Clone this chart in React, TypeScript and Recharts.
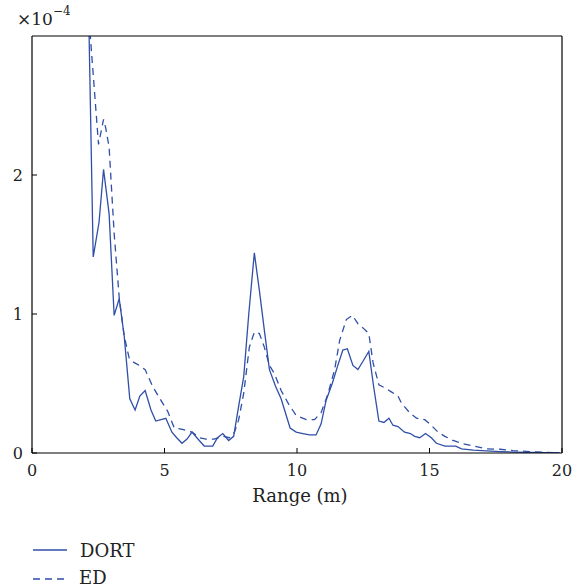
import React from 'react';
import { LineChart, Line, XAxis, YAxis, Legend } from 'recharts';

// Range (m)
const dortRange = [2.12, 2.31, 2.53, 2.70, 2.91, 3.10, 3.29, 3.48, 3.69, 3.89, 4.07, 4.27, 4.49, 4.67, 5.05, 5.28, 5.46, 5.66, 5.85, 6.04, 6.31, 6.50, 6.82, 7.0, 7.2, 7.42, 7.61, 7.81, 7.99, 8.18, 8.39, 8.58, 8.77, 8.96, 9.19, 9.40, 9.74, 9.97, 10.22, 10.47, 10.72, 10.91, 11.1, 11.33, 11.54, 11.73, 11.9, 12.11, 12.3, 12.49, 12.71, 12.89, 13.09, 13.28, 13.47, 13.62, 13.81, 14.06, 14.28, 14.44, 14.63, 14.85, 15.07, 15.26, 15.58, 15.99, 16.21, 16.65, 17.15, 17.66, 18.15, 18.8, 19.4, 19.9];
// DORT values (x 1e-4)
const dortValues = [3.36, 1.41, 1.66, 2.04, 1.72, 0.99, 1.11, 0.84, 0.39, 0.31, 0.41, 0.45, 0.31, 0.23, 0.25, 0.15, 0.11, 0.07, 0.10, 0.15, 0.09, 0.05, 0.05, 0.11, 0.14, 0.09, 0.12, 0.35, 0.55, 1.0, 1.44, 1.17, 0.88, 0.60, 0.48, 0.39, 0.18, 0.15, 0.14, 0.13, 0.13, 0.21, 0.38, 0.50, 0.63, 0.74, 0.75, 0.63, 0.60, 0.66, 0.73, 0.48, 0.23, 0.22, 0.25, 0.20, 0.19, 0.15, 0.14, 0.12, 0.11, 0.14, 0.11, 0.07, 0.05, 0.05, 0.03, 0.02, 0.015, 0.01, 0.007, 0.004, 0.003, 0.002];

const edRange = [2.12, 2.51, 2.70, 2.78, 2.91, 3.10, 3.29, 3.48, 3.67, 3.86, 4.05, 4.27, 4.55, 4.86, 5.12, 5.37, 5.68, 6.04, 6.31, 6.57, 6.88, 7.2, 7.45, 7.64, 7.8, 7.99, 8.2, 8.39, 8.58, 8.77, 8.96, 9.15, 9.40, 9.69, 9.97, 10.35, 10.66, 10.91, 11.16, 11.42, 11.61, 11.86, 12.09, 12.3, 12.49, 12.71, 12.87, 13.09, 13.3, 13.56, 13.81, 13.94, 14.25, 14.51, 14.82, 15.01, 15.32, 15.58, 15.89, 16.21, 16.65, 17.15, 17.66, 18.15, 18.8, 19.4, 19.9];
// ED values (x 1e-4)
const edValues = [3.2, 2.22, 2.40, 2.34, 2.2, 1.58, 1.12, 0.84, 0.68, 0.65, 0.63, 0.60, 0.48, 0.38, 0.30, 0.18, 0.17, 0.15, 0.11, 0.10, 0.10, 0.12, 0.11, 0.15, 0.24, 0.43, 0.76, 0.87, 0.86, 0.76, 0.63, 0.57, 0.45, 0.35, 0.27, 0.24, 0.24, 0.29, 0.42, 0.60, 0.81, 0.96, 0.99, 0.93, 0.90, 0.86, 0.65, 0.49, 0.47, 0.44, 0.41, 0.36, 0.29, 0.25, 0.24, 0.21, 0.15, 0.12, 0.09, 0.07, 0.05, 0.03, 0.027, 0.017, 0.01, 0.005, 0.002];

const xTicks = [0, 5, 10, 15, 20];
const yTicks = [0, 1, 2];
const seriesNames = ['DORT', 'ED'];

const dortData = dortRange.map((x, i) => ({ x, y: dortValues[i] }));
const edData = edRange.map((x, i) => ({ x, y: edValues[i] }));

const BLUE = '#2f4fa8';
const FONT = '"DejaVu Serif", serif';
const DASH = '7 5';

const LegendContent = () => (
  <svg width={160} height={60} style={{ display: 'block', overflow: 'visible' }}>
    <line x1={33} x2={67} y1={11} y2={11} stroke={BLUE} strokeWidth={1.3} />
    <text x={80} y={18} style={{ fontFamily: FONT, fontSize: 18 }} fill="#222">{seriesNames[0]}</text>
    <line x1={33} x2={67} y1={40} y2={40} stroke={BLUE} strokeWidth={1.3} strokeDasharray={DASH} />
    <text x={79} y={45} style={{ fontFamily: FONT, fontSize: 18 }} fill="#222">{seriesNames[1]}</text>
  </svg>
);

export default function App() {
  const tickStyle = { fontFamily: FONT, fontSize: 16, fill: '#222' };
  return (
    <div style={{ position: 'absolute', left: 0, top: 0, width: 573, height: 587, background: '#fff', fontFamily: FONT }}>
      <LineChart width={573} height={587} margin={{ top: 35, right: 10, bottom: 104, left: 2 }} style={{ fontFamily: FONT }}>
        <XAxis
          xAxisId="b"
          dataKey="x"
          type="number"
          domain={[0, 20]}
          ticks={xTicks}
          allowDataOverflow
          height={30}
          tickSize={-5}
          tickMargin={17}
          tick={tickStyle}
          axisLine={{ stroke: '#000', strokeWidth: 1.2 }}
          tickLine={{ stroke: '#000' }}
          label={{
            content: (p: any) => {
              const vb = p.viewBox || { x: 32, y: 453, width: 530 };
              return (
                <text x={vb.x + vb.width / 2 + 3} y={vb.y + 49} textAnchor="middle" style={{ fontFamily: FONT, fontSize: 18 }} fill="#222">
                  Range (m)
                </text>
              );
            },
          }}
        />
        <XAxis
          xAxisId="t"
          orientation="top"
          type="number"
          domain={[0, 20]}
          ticks={xTicks}
          height={1}
          tickSize={-5}
          tick={false}
          axisLine={{ stroke: '#000', strokeWidth: 1.2 }}
          tickLine={{ stroke: '#000' }}
        />
        <YAxis
          yAxisId="l"
          type="number"
          domain={[0, 3]}
          ticks={yTicks}
          allowDataOverflow
          width={30}
          tickSize={-5}
          tickMargin={14}
          tick={tickStyle}
          axisLine={{ stroke: '#000', strokeWidth: 1.2 }}
          tickLine={{ stroke: '#000' }}
          label={{
            content: () => (
              <text x={17} y={25} style={{ fontFamily: FONT, fontSize: 17 }} fill="#222">
                ×10
                <tspan dy={-10} style={{ fontSize: 12 }}>−4</tspan>
              </text>
            ),
          }}
        />
        <YAxis
          yAxisId="r"
          orientation="right"
          type="number"
          domain={[0, 3]}
          ticks={yTicks}
          width={1}
          tickSize={-5}
          tick={false}
          axisLine={{ stroke: '#000', strokeWidth: 1.2 }}
          tickLine={{ stroke: '#000' }}
        />
        <Line
          xAxisId="b"
          yAxisId="l"
          data={dortData}
          dataKey="y"
          name={seriesNames[0]}
          type="linear"
          stroke={BLUE}
          strokeWidth={1.3}
          dot={false}
          activeDot={false}
          isAnimationActive={false}
        />
        <Line
          xAxisId="b"
          yAxisId="l"
          data={edData}
          dataKey="y"
          name={seriesNames[1]}
          type="linear"
          stroke={BLUE}
          strokeWidth={1.3}
          strokeDasharray={DASH}
          dot={false}
          activeDot={false}
          isAnimationActive={false}
        />
        <Legend
          layout="vertical"
          align="center"
          verticalAlign="middle"
          content={LegendContent}
          wrapperStyle={{ position: 'absolute', left: 0, top: 539, width: 160, height: 46 }}
        />
      </LineChart>
    </div>
  );
}
